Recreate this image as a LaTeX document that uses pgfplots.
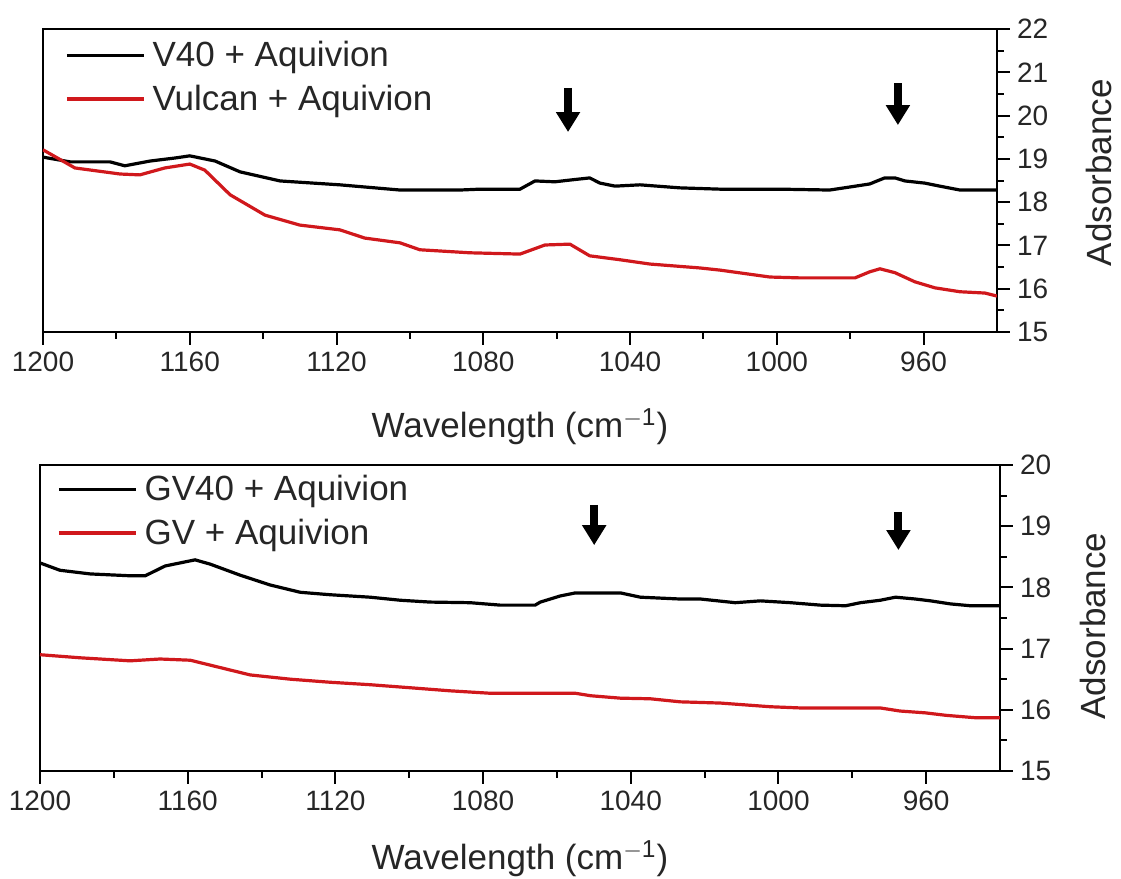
\documentclass[border=0pt]{standalone}
\usepackage{fontspec}
\setmainfont{Liberation Sans}
\usepackage{pgfplots}
\pgfplotsset{compat=1.18}
\usetikzlibrary{arrows.meta}
\definecolor{myred}{RGB}{208,24,28}

\pgfplotsset{
  panel/.style={
    scale only axis,
    x dir=reverse,
    xmin=940, xmax=1200,
    xtick={1200,1160,1120,1080,1040,1000,960},
    minor x tick num=1,
    minor y tick num=1,
    axis line style={line width=1pt},
    every tick/.style={black, line width=1pt},
    major tick length=6.5pt,
    minor tick length=3.5pt,
    tick align=outside,
    xtick pos=lower, ytick pos=upper,
    xticklabel pos=lower, yticklabel pos=upper,
    /pgf/number format/assume math mode=true,
    /pgf/number format/1000 sep={},
    tick label style={font=\fontsize{14}{16}\selectfont, black!85},
    xlabel={Wavelength (cm$^{\mathrm{-1}}$)},
    ylabel={Adsorbance},
    legend style={draw=none, fill=none, font=\fontsize{17.5}{21}\selectfont,
      at={(axis description cs:0,1)}, anchor=north west, row sep=3.5pt, text=black!85,
      /tikz/every odd column/.style={column sep=1.5pt}},
    legend cell align=left,
    legend image code/.code={\draw[#1] (0pt,0pt) -- (38.5pt,0pt);},
  }
}

\begin{document}
\begin{tikzpicture}
\useasboundingbox (0,0) rectangle (560.5pt,439.5pt);

\begin{axis}[panel,
  at={(21.5pt,273.5pt)}, anchor=south west,
  width=477pt, height=151.5pt,
  ymin=15, ymax=22, ytick={15,16,...,22},
  every axis x label/.style={at={(axis description cs:0.5,0)}, anchor=base,
      yshift=-53pt, font=\fontsize{17.5}{21}\selectfont, text=black!85},
  every axis y label/.style={at={(axis description cs:1.1195,0.526)}, rotate=90, anchor=base,
      font=\fontsize{17.5}{21}\selectfont, text=black!85},
  legend style={xshift=8pt, yshift=-2pt}]
\addplot[black, line width=1.6pt] coordinates {
(1200,19.04) (1192.6,18.93) (1181.7,18.93) (1177.7,18.84) (1170.8,18.95)
(1164,19.02) (1160,19.07) (1153.1,18.95) (1146.3,18.70) (1135.4,18.49)
(1119.1,18.40) (1102.7,18.28) (1086.4,18.28) (1080.9,18.30) (1070,18.30)
(1065.9,18.49) (1060.5,18.47) (1056.4,18.51) (1051,18.56) (1048.2,18.44)
(1044.1,18.37) (1037.3,18.40) (1026.4,18.33) (1015.5,18.30) (999.2,18.30)
(985.6,18.28) (980.1,18.35) (974.7,18.42) (970.6,18.56) (967.8,18.56)
(965.1,18.49) (959.7,18.44) (955.6,18.37) (950.1,18.28) (940.1,18.28)
};
\addlegendentry{V40 + Aquivion}
\addplot[myred, line width=1.6pt] coordinates {
(1200,19.21) (1191.3,18.79) (1179,18.65) (1173.6,18.63) (1166.8,18.79)
(1160,18.88) (1155.9,18.74) (1149,18.17) (1139.5,17.70) (1130,17.47)
(1119.1,17.36) (1112.3,17.17) (1102.7,17.06) (1097.3,16.90) (1083.7,16.83)
(1070,16.80) (1063.2,17.01) (1056.4,17.03) (1051,16.76) (1042.8,16.67)
(1034.6,16.57) (1021,16.48) (1015.5,16.43) (1001.9,16.27) (993.7,16.25)
(978.7,16.25) (974.7,16.39) (971.9,16.46) (967.8,16.37) (962.4,16.16)
(956.9,16.02) (950.1,15.93) (943.3,15.90) (940,15.83)
};
\addlegendentry{Vulcan + Aquivion}
\draw[line width=4pt, -{Triangle[width=11.5pt,length=10pt]}] (axis cs:1056.9,20.64) -- (axis cs:1056.9,19.62);
\draw[line width=4pt, -{Triangle[width=11.5pt,length=10pt]}] (axis cs:967,20.75) -- (axis cs:967,19.78);
\end{axis}

\begin{axis}[panel,
  at={(20pt,54pt)}, anchor=south west,
  width=480pt, height=153pt,
  ymin=15, ymax=20, ytick={15,16,...,20},
  every axis x label/.style={at={(axis description cs:0.5,0)}, anchor=base,
      yshift=-49.5pt, font=\fontsize{17.5}{21}\selectfont, text=black!85},
  every axis y label/.style={at={(axis description cs:1.1094,0.474)}, rotate=90, anchor=base,
      font=\fontsize{17.5}{21}\selectfont, text=black!85},
  legend style={xshift=5.5pt, yshift=-1pt}]
\addplot[black, line width=1.6pt] coordinates {
(1200,18.40) (1194.6,18.28) (1186.4,18.22) (1175.6,18.19) (1171.5,18.19)
(1166.1,18.35) (1158,18.45) (1153.9,18.38) (1145.8,18.20) (1137.7,18.04)
(1129.5,17.92) (1121.4,17.88) (1110.6,17.84) (1102.4,17.79) (1094.3,17.76)
(1083.5,17.75) (1075.3,17.71) (1065.9,17.71) (1064.5,17.76) (1059.1,17.86)
(1055,17.91) (1042.8,17.91) (1037.4,17.84) (1026.6,17.81) (1021.1,17.81)
(1011.7,17.75) (1004.9,17.78) (996.7,17.75) (988.6,17.71) (981.8,17.70)
(977.8,17.75) (972.4,17.79) (968.3,17.84) (962.9,17.81) (958.8,17.78)
(953.4,17.73) (948,17.70) (939.8,17.70)
};
\addlegendentry{GV40 + Aquivion}
\addplot[myred, line width=1.6pt] coordinates {
(1200,16.90) (1189.2,16.85) (1175.6,16.80) (1167.5,16.83) (1159.3,16.81)
(1153.9,16.73) (1143.1,16.57) (1132.2,16.50) (1121.4,16.45) (1110.6,16.41)
(1099.7,16.36) (1088.9,16.31) (1078,16.27) (1055,16.27) (1050.9,16.23)
(1042.8,16.19) (1034.7,16.18) (1026.6,16.13) (1015.7,16.11) (1002.2,16.05)
(994,16.03) (972.4,16.03) (967.1,15.98) (960.2,15.95) (954.7,15.91)
(946.6,15.87) (939.8,15.87)
};
\addlegendentry{GV + Aquivion}
\draw[line width=4pt, -{Triangle[width=11.5pt,length=10pt]}] (axis cs:1049.9,19.35) -- (axis cs:1049.9,18.69);
\draw[line width=4pt, -{Triangle[width=11.5pt,length=10pt]}] (axis cs:967.5,19.23) -- (axis cs:967.5,18.61);
\end{axis}
\end{tikzpicture}
\end{document}
